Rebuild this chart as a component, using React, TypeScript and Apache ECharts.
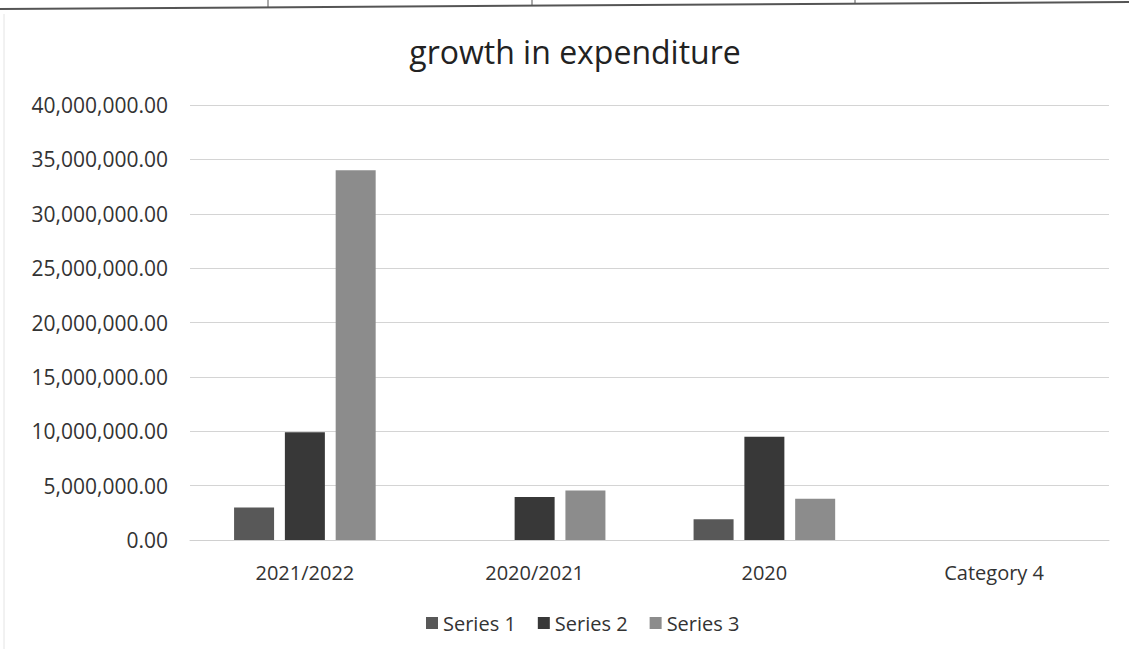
import React, { useEffect, useRef } from "react";
import * as echarts from "echarts";

const categories = ["2021/2022", "2020/2021", "2020", "Category 4"];
const series1 = [3000000, 0, 1900000, null];
const series2 = [9900000, 3950000, 9500000, null];
const series3 = [34000000, 4550000, 3800000, null];
const seriesNames = ["Series 1", "Series 2", "Series 3"];
const seriesColors = ["#585858", "#383838", "#8c8c8c"];

const FONT = "'Open Sans', 'Noto Sans', sans-serif";

function fmt(v: number) {
  return v.toLocaleString("en-US", { minimumFractionDigits: 2, maximumFractionDigits: 2 });
}

export default function App() {
  const ref = useRef<HTMLDivElement>(null);
  useEffect(() => {
    if (!ref.current) return;
    const chart = echarts.init(ref.current, null, { renderer: "svg" });
    const data = [series1, series2, series3];
    chart.setOption({
      animation: false,
      backgroundColor: "#ffffff",
      title: {
        text: "growth in expenditure",
        left: 570,
        textAlign: "center",
        top: 30,
        textStyle: { fontFamily: FONT, fontSize: 32, fontWeight: "normal", color: "#222" },
      },
      legend: {
        data: seriesNames,
        left: 421,
        top: 608,
        itemWidth: 12,
        itemHeight: 12,
        itemGap: 22,
        icon: "rect",
        textStyle: { fontFamily: FONT, fontSize: 20, color: "#333", padding: [0, 0, 0, 0] },
      },
      grid: { left: 190, right: 20, top: 105, bottom: 109, containLabel: false },
      xAxis: {
        type: "category",
        data: categories,
        axisLine: { show: true, lineStyle: { color: "#d0d0d0" } },
        axisTick: { show: false },
        axisLabel: { fontFamily: FONT, fontSize: 20, color: "#333", margin: 22 },
      },
      yAxis: {
        type: "value",
        min: 0,
        max: 40000000,
        interval: 5000000,
        axisLine: { show: false },
        axisTick: { show: false },
        splitLine: { lineStyle: { color: "#d4d4d4", width: 1 } },
        axisLabel: { fontFamily: FONT, fontSize: 21, color: "#333", margin: 22, formatter: (v: number) => fmt(v) },
      },
      series: seriesNames.map((name, i) => ({
        name,
        type: "bar",
        data: data[i],
        itemStyle: { color: seriesColors[i] },
        barWidth: 40,
        barGap: "27%",
      })),
      graphic: [
        { type: "line", shape: { x1: 0, y1: 9, x2: 1129, y2: 2 }, style: { stroke: "#555", lineWidth: 2 } },
        { type: "line", shape: { x1: 268, y1: 0, x2: 268, y2: 8 }, style: { stroke: "#555", lineWidth: 1 } },
        { type: "line", shape: { x1: 532, y1: 0, x2: 532, y2: 6 }, style: { stroke: "#555", lineWidth: 1 } },
        { type: "line", shape: { x1: 855, y1: 0, x2: 855, y2: 4 }, style: { stroke: "#555", lineWidth: 1 } },
        { type: "line", shape: { x1: 4, y1: 14, x2: 4, y2: 649 }, style: { stroke: "#e4e4e4", lineWidth: 1 } },
      ],
    });
    return () => chart.dispose();
  }, []);
  return (
    <div
      ref={ref}
      style={{ position: "absolute", left: 0, top: 0, width: 1129, height: 649 }}
    />
  );
}
